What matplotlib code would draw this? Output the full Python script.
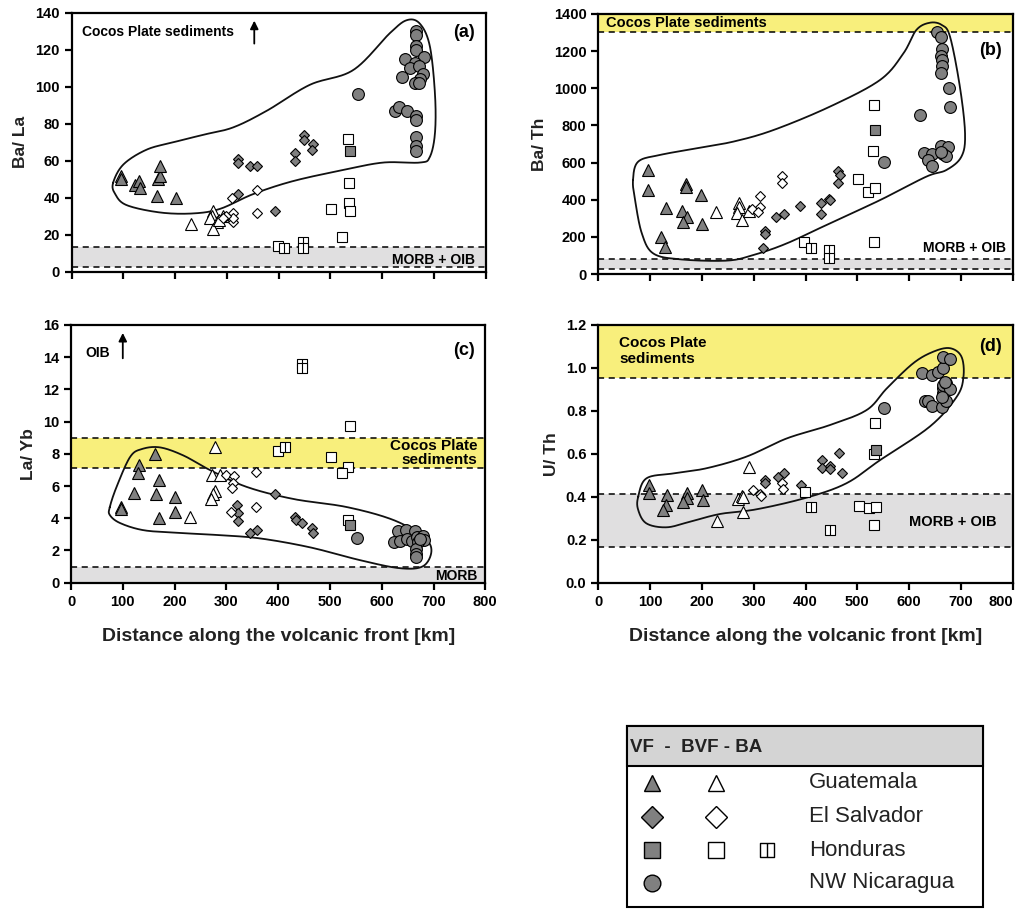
import numpy as np
import matplotlib
matplotlib.use('Agg')
import matplotlib.pyplot as plt
from matplotlib.path import Path
from matplotlib.patches import Rectangle

plt.rcParams['font.family'] = ['Liberation Sans', 'DejaVu Sans']

# (distance km, ratio)
# VF = volcanic front (grey), BVF = behind volcanic front (open), BA = back arc (split square)
A_GUA_VF = [(95, 52), (96, 50), (122, 47), (130, 49), (132, 45), (164, 41), (166, 50), (171, 52), (171, 57), (201, 40)]
A_GUA_BVF = [(231, 26), (274, 33), (271, 30), (267, 29), (280, 27), (274, 23), (293, 30), (285, 28)]
A_ELS_VF = [(322, 61), (322, 59), (345, 57), (359, 57), (321, 42), (392, 33), (432, 64), (432, 60), (448, 74), (448, 71), (467, 69), (465, 66)]
A_ELS_BVF = [(309, 40), (358, 44), (358, 32), (312, 32), (311, 27), (312, 29), (298, 30), (293, 29)]
A_HON_VF = [(538, 65)]
A_HON_BVF = [(533, 72), (535, 48), (535, 37), (538, 33), (502, 34), (522, 19), (399, 14)]
A_HON_BA = [(411, 13), (446, 16), (446, 13)]
A_NIC_VF = [(665, 130), (665, 128), (665, 122), (665, 120), (644, 115), (681, 116), (663, 113), (654, 110), (672, 111),
            (679, 107), (674, 104), (663, 102), (672, 102), (638, 105), (553, 96), (625, 87), (632, 89), (648, 87),
            (665, 84), (665, 82), (665, 73), (665, 68), (665, 65)]
A_ENV = [(80, 48), (100, 58), (145, 66), (197, 70), (254, 74), (312, 78), (377, 87), (460, 101), (544, 109), (615, 129),
         (648, 136), (673, 134), (692, 122), (702, 96), (702, 75), (692, 62), (673, 59), (602, 59), (525, 55), (428, 49),
         (351, 42), (287, 34), (235, 31.5), (171, 32), (106, 36), (84, 42)]

B_GUA_VF = [(95, 560), (95, 452), (131, 354), (169, 483), (170, 470), (162, 341), (171, 305), (164, 278), (198, 425), (201, 267), (121, 197), (129, 144)]
B_GUA_BVF = [(228, 334), (272, 380), (272, 363), (267, 327), (278, 291), (290, 341)]
B_ELS_VF = [(322, 233), (322, 214), (318, 138), (344, 305), (358, 321), (389, 364), (430, 384), (430, 325), (445, 402), (447, 396), (463, 556), (467, 533), (463, 488)]
B_ELS_BVF = [(355, 528), (355, 488), (312, 420), (312, 359), (297, 348), (308, 332)]
B_HON_VF = [(534, 775)]
B_HON_BVF = [(532, 910), (530, 664), (501, 512), (521, 443), (535, 461), (532, 174), (398, 174)]
B_HON_BA = [(411, 138), (446, 129), (446, 88)]
B_NIC_VF = [(654, 1305), (662, 1278), (664, 1210), (662, 1174), (664, 1152), (663, 1122), (661, 1084), (677, 1000), (678, 897),
            (622, 856), (552, 601), (629, 650), (644, 646), (636, 614), (645, 582), (662, 689), (675, 686), (666, 646),
            (671, 635), (661, 659)]
B_ENV = [(67, 506), (77, 605), (119, 641), (190, 677), (261, 713), (338, 775), (447, 901), (544, 1045), (589, 1188), (614, 1314),
         (640, 1353), (663, 1341), (679, 1278), (698, 1009), (708, 757), (701, 632), (672, 560), (633, 524), (544, 398),
         (454, 282), (364, 165), (299, 102), (248, 72), (158, 79), (106, 111), (84, 219), (71, 398)]

C_GUA_VF = [(96, 4.7), (96, 4.55), (131, 7.3), (130, 6.8), (163, 8.0), (170, 6.4), (122, 5.6), (165, 5.5), (201, 5.3), (200, 4.4), (170, 4.0)]
C_GUA_BVF = [(279, 8.4), (273, 6.7), (278, 5.7), (275, 5.5), (270, 5.2), (230, 4.1), (288, 6.7)]
C_ELS_VF = [(321, 4.8), (323, 4.3), (322, 3.8), (393, 5.5), (345, 3.1), (360, 3.3), (432, 4.1), (434, 3.9), (447, 3.7), (466, 3.4), (468, 3.1)]
C_ELS_BVF = [(299, 6.7), (315, 6.6), (313, 6.2), (311, 5.9), (357, 6.9), (308, 4.4), (357, 4.7)]
C_HON_VF = [(539, 3.6)]
C_HON_BVF = [(400, 8.2), (539, 9.7), (503, 7.8), (535, 7.2), (523, 6.8), (535, 3.9)]
C_HON_BA = [(414, 8.4), (447, 13.6), (447, 13.35)]
C_NIC_VF = [(553, 2.8), (632, 3.2), (647, 3.3), (664, 3.2), (624, 2.5), (635, 2.6), (648, 2.7), (658, 2.6), (669, 2.85),
            (680, 2.9), (682, 2.65), (671, 2.5), (666, 2.1), (666, 1.8), (666, 1.6), (674, 2.7)]
C_ENV = [(75, 4.7), (88, 5.95), (114, 7.8), (137, 8.3), (172, 8.4), (217, 7.9), (268, 7.0), (339, 5.95), (429, 5.2), (532, 4.7),
         (622, 3.9), (680, 2.85), (696, 2.0), (680, 1.03), (635, 0.9), (558, 1.4), (461, 2.2), (365, 2.75), (288, 2.95),
         (204, 3.1), (140, 3.26), (95, 3.7), (75, 4.2)]

D_GUA_VF = [(98, 0.455), (98, 0.416), (133, 0.41), (130, 0.362), (124, 0.339), (172, 0.416), (172, 0.396), (164, 0.374), (201, 0.432), (203, 0.385)]
D_GUA_BVF = [(230, 0.287), (280, 0.331), (291, 0.54), (269, 0.39), (277, 0.405), (280, 0.40)]
D_ELS_VF = [(322, 0.478), (322, 0.463), (346, 0.49), (358, 0.509), (391, 0.455), (432, 0.571), (432, 0.536), (447, 0.543), (448, 0.53), (465, 0.602), (470, 0.512)]
D_ELS_BVF = [(299, 0.432), (312, 0.411), (315, 0.405), (355, 0.463), (356, 0.436)]
D_HON_VF = [(536, 0.618)]
D_HON_BVF = [(399, 0.424), (535, 0.742), (533, 0.6), (503, 0.359), (522, 0.349), (537, 0.354), (533, 0.269)]
D_HON_BA = [(410, 0.354), (447, 0.245)]
D_NIC_VF = [(552, 0.812), (624, 0.978), (645, 0.967), (656, 0.983), (665, 0.998), (665, 1.053), (679, 1.04), (631, 0.848),
            (637, 0.848), (645, 0.823), (663, 0.82), (671, 0.848), (665, 0.882), (665, 0.905), (666, 0.92), (672, 0.928),
            (679, 0.902), (669, 0.936), (663, 0.866)]
D_ENV = [(77, 0.4), (93, 0.486), (145, 0.509), (209, 0.533), (286, 0.587), (364, 0.672), (447, 0.734), (518, 0.804), (557, 0.905),
         (608, 1.022), (647, 1.076), (679, 1.092), (701, 1.053), (705, 0.96), (692, 0.866), (640, 0.727), (544, 0.571),
         (479, 0.463), (402, 0.396), (306, 0.342), (235, 0.32), (177, 0.284), (132, 0.258), (93, 0.276), (77, 0.339)]

# reference bands (low, high)
A_MORB = (2.7, 13.5)
B_COCOS = (1303, 1400)
B_MORB = (29, 81)
C_COCOS = (7.13, 9.0)
C_MORB = (0, 1.0)
D_COCOS = (0.952, 1.2)
D_MORB = (0.165, 0.411)

GREY = '#808080'
YELLOW = '#f8ef7c'
BAND_GREY = '#e0dfe0'

# square with a vertical bar for the back-arc samples
ba_marker = Path([(-1, -1), (1, -1), (1, 1), (-1, 1), (-1, -1), (0, -1), (0, 1)],
                 [Path.MOVETO, Path.LINETO, Path.LINETO, Path.LINETO, Path.CLOSEPOLY, Path.MOVETO, Path.LINETO])


def smooth_closed(pts, n=25):
    p = np.array(pts, dtype=float)
    out = []
    k = len(p)
    for i in range(k):
        p0, p1, p2, p3 = p[i - 1], p[i], p[(i + 1) % k], p[(i + 2) % k]
        for t in np.linspace(0, 1, n, endpoint=False):
            out.append(0.5 * (2 * p1 + (-p0 + p2) * t + (2 * p0 - 5 * p1 + 4 * p2 - p3) * t ** 2
                              + (-p0 + 3 * p1 - 3 * p2 + p3) * t ** 3))
    out.append(out[0])
    return np.array(out)


def pts(ax, data, marker, ms, face):
    d = np.array(data, dtype=float)
    ax.plot(d[:, 0], d[:, 1], ls='none', marker=marker, ms=ms, mfc=face, mec='k', mew=0.8, zorder=4)


def band(ax, lo, hi, color):
    ax.axhspan(lo, hi, color=color, zorder=0, lw=0)
    for v in (lo, hi):
        ax.axhline(v, color='k', ls=(0, (4, 3)), lw=1.1, zorder=1)


def panel(ax, groups, env, ymax, ystep, ylabel, yfmt, xlabels):
    gua_vf, gua_bvf, els_vf, els_bvf, hon_vf, hon_bvf, hon_ba, nic_vf = groups
    c = smooth_closed(env)
    ax.plot(c[:, 0], c[:, 1], color='#111111', lw=1.3, zorder=2)
    pts(ax, gua_vf, '^', 8, GREY)
    pts(ax, gua_bvf, '^', 8, 'white')
    pts(ax, els_vf, 'D', 5.5, GREY)
    pts(ax, els_bvf, 'D', 5.5, 'white')
    pts(ax, hon_bvf, 's', 7, 'white')
    pts(ax, hon_vf, 's', 7, GREY)
    pts(ax, hon_ba, ba_marker, 6.5, 'white')
    pts(ax, nic_vf, 'o', 8.5, GREY)
    ax.set_xlim(0, 800)
    ax.set_ylim(0, ymax)
    xt = np.arange(0, 801, 100)
    yt = np.arange(0, ymax + ystep / 2, ystep)
    ax.set_xticks(xt)
    ax.set_yticks(yt)
    for s in ax.spines.values():
        s.set_linewidth(1.6)
    ax.tick_params(direction='out', length=5, width=1.6, labelsize=10.5)
    if xlabels:
        ax.set_xticklabels([str(v) for v in xt], fontweight='bold')
    else:
        ax.set_xticklabels([])
    ax.set_yticklabels([yfmt.format(v) for v in yt], fontweight='bold')
    ax.set_ylabel(ylabel, fontsize=12.5, fontweight='bold', color='#222222', labelpad=5)


W, H = 1019, 909
fig = plt.figure(figsize=(W / 100, H / 100), dpi=100)


def axes_px(left, top, right, bottom):
    return fig.add_axes([left / W, 1 - bottom / H, (right - left) / W, (bottom - top) / H])


axa = axes_px(71.7, 12.7, 485.7, 271.7)
axb = axes_px(598.3, 14, 1012.7, 274)
axc = axes_px(71, 325, 485.3, 582.7)
axd = axes_px(598.3, 325, 1012.7, 582.7)

# (a)
band(axa, *A_MORB, BAND_GREY)
panel(axa, (A_GUA_VF, A_GUA_BVF, A_ELS_VF, A_ELS_BVF, A_HON_VF, A_HON_BVF, A_HON_BA, A_NIC_VF), A_ENV, 140, 20,
      'Ba/ La', '{:.0f}', False)
axa.text(0.026, 0.925, 'Cocos Plate sediments', transform=axa.transAxes, fontsize=10, fontweight='bold', va='center')
axa.annotate('', xy=(0.441, 0.98), xytext=(0.441, 0.87), xycoords='axes fraction',
             arrowprops=dict(arrowstyle='-|>', color='k', lw=1.3, mutation_scale=12))
axa.text(0.975, 0.925, '(a)', transform=axa.transAxes, fontsize=13, fontweight='bold', ha='right', va='center')
axa.text(0.975, 0.045, 'MORB + OIB', transform=axa.transAxes, fontsize=10, fontweight='bold', ha='right', va='center')

# (b)
band(axb, *B_COCOS, YELLOW)
band(axb, *B_MORB, BAND_GREY)
panel(axb, (B_GUA_VF, B_GUA_BVF, B_ELS_VF, B_ELS_BVF, B_HON_VF, B_HON_BVF, B_HON_BA, B_NIC_VF), B_ENV, 1400, 200,
      'Ba/ Th', '{:.0f}', False)
axb.text(0.018, 0.965, 'Cocos Plate sediments', transform=axb.transAxes, fontsize=10.5, fontweight='bold', va='center')
axb.text(0.975, 0.86, '(b)', transform=axb.transAxes, fontsize=13, fontweight='bold', ha='right', va='center')
axb.text(0.985, 0.1, 'MORB + OIB', transform=axb.transAxes, fontsize=10, fontweight='bold', ha='right', va='center')

# (c)
band(axc, *C_COCOS, YELLOW)
band(axc, *C_MORB, BAND_GREY)
panel(axc, (C_GUA_VF, C_GUA_BVF, C_ELS_VF, C_ELS_BVF, C_HON_VF, C_HON_BVF, C_HON_BA, C_NIC_VF), C_ENV, 16, 2,
      'La/ Yb', '{:.0f}', True)
axc.text(0.035, 0.89, 'OIB', transform=axc.transAxes, fontsize=10, fontweight='bold', va='center')
axc.annotate('', xy=(0.125, 0.98), xytext=(0.125, 0.86), xycoords='axes fraction',
             arrowprops=dict(arrowstyle='-|>', color='k', lw=1.3, mutation_scale=12))
axc.text(0.975, 0.9, '(c)', transform=axc.transAxes, fontsize=13, fontweight='bold', ha='right', va='center')
axc.text(0.98, 0.505, 'Cocos Plate\nsediments', transform=axc.transAxes, fontsize=11, fontweight='bold',
         ha='right', va='center', linespacing=1.0)
axc.text(0.98, 0.027, 'MORB', transform=axc.transAxes, fontsize=10, fontweight='bold', ha='right', va='center')
axc.set_xlabel('Distance along the volcanic front [km]', fontsize=14, fontweight='bold', color='#222222', labelpad=14)

# (d)
band(axd, *D_COCOS, YELLOW)
band(axd, *D_MORB, BAND_GREY)
panel(axd, (D_GUA_VF, D_GUA_BVF, D_ELS_VF, D_ELS_BVF, D_HON_VF, D_HON_BVF, D_HON_BA, D_NIC_VF), D_ENV, 1.2, 0.2,
      'U/ Th', '{:.1f}', True)
axd.get_xticklabels()[-1].set_horizontalalignment('right')
axd.text(0.05, 0.9, 'Cocos Plate\nsediments', transform=axd.transAxes, fontsize=11, fontweight='bold',
         va='center', linespacing=1.2)
axd.text(0.975, 0.915, '(d)', transform=axd.transAxes, fontsize=13, fontweight='bold', ha='right', va='center')
axd.text(0.96, 0.235, 'MORB + OIB', transform=axd.transAxes, fontsize=10.5, fontweight='bold', ha='right', va='center')
axd.set_xlabel('Distance along the volcanic front [km]', fontsize=14, fontweight='bold', color='#222222', labelpad=14)

# legend table drawn in pixel coordinates
lg = fig.add_axes([0, 0, 1, 1], zorder=-1)
lg.set_xlim(0, W)
lg.set_ylim(H, 0)
lg.axis('off')
lg.add_patch(Rectangle((626.7, 726), 356.6, 181, fill=False, ec='k', lw=1.5))
lg.add_patch(Rectangle((626.7, 726), 356.6, 40, fc='#d4d4d4', ec='k', lw=1.5))
lg.text(630, 747, 'VF  -  BVF - BA', fontsize=13.5, fontweight='bold', color='#222222', va='center')
rows = ['Guatemala', 'El Salvador', 'Honduras', 'NW Nicaragua']
row_y = [783, 816.7, 850, 882.7]
lg_markers = [[('^', GREY), ('^', 'white')],
              [('D', GREY), ('D', 'white')],
              [('s', GREY), ('s', 'white'), (ba_marker, 'white')],
              [('o', GREY)]]
col_x = [651.7, 715.7, 766.7]
lg_ms = {'^': 11, 'D': 11, 's': 11.5, 'o': 12}
for name, y, mk in zip(rows, row_y, lg_markers):
    for (m, face), x in zip(mk, col_x):
        size = lg_ms.get(m, 10) if isinstance(m, str) else 10
        lg.plot([x], [y], ls='none', marker=m, ms=size, mfc=face, mec='k', mew=1.0)
    lg.text(809, y, name, fontsize=16, color='#222222', va='center')

fig.savefig('out.png', dpi=100)
